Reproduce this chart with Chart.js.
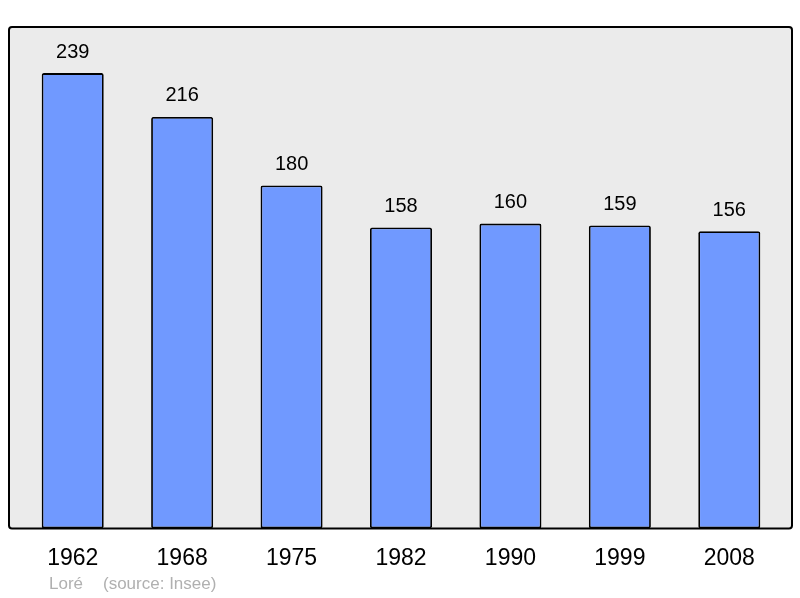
<!DOCTYPE html>
<html>
<head>
  <title>Loré population</title>
  <script src="https://cdn.jsdelivr.net/npm/chart.js@4.4.0/dist/chart.umd.min.js"></script>
  <style>
    body { margin: 0; background: #fff; }
    #wrap { width: 800px; height: 598px; }
  </style>
</head>
<body>
  <div id="wrap"><canvas id="popChart" width="800" height="598"></canvas></div>

  <script>
    // census years and population
    const years = ['1962', '1968', '1975', '1982', '1990', '1999', '2008'];
    const population = [239, 216, 180, 158, 160, 159, 156];
    const yMax = 263.2;

    const frame = {
      id: 'frame',
      beforeDraw(chart) {
        const ctx = chart.ctx;
        const area = chart.chartArea;
        ctx.save();
        ctx.beginPath();
        ctx.roundRect(9, area.top, 783, area.bottom - area.top, 3);
        ctx.fillStyle = '#ebebeb';
        ctx.fill();
        ctx.restore();
      },
      afterDatasetsDraw(chart) {
        const ctx = chart.ctx;
        const area = chart.chartArea;
        ctx.save();
        // value labels above bars
        ctx.font = '20px "Liberation Sans", Arial, sans-serif';
        ctx.fillStyle = '#000';
        ctx.textAlign = 'center';
        ctx.textBaseline = 'middle';
        chart.getDatasetMeta(0).data.forEach((bar, i) => {
          ctx.fillText(population[i], bar.x, bar.y - 21);
        });
        // frame outline
        ctx.beginPath();
        ctx.roundRect(9, area.top, 783, area.bottom - area.top, 3);
        ctx.lineWidth = 2;
        ctx.strokeStyle = '#000';
        ctx.stroke();
        // footer
        ctx.font = '17px "Liberation Sans", Arial, sans-serif';
        ctx.fillStyle = '#b0b0b0';
        ctx.textAlign = 'left';
        ctx.fillText('Loré', 49, 584);
        ctx.fillText('(source: Insee)', 103, 584);
        ctx.restore();
      }
    };

    new Chart(document.getElementById('popChart'), {
      type: 'bar',
      data: {
        labels: years,
        datasets: [{
          data: population,
          backgroundColor: '#7099ff',
          borderColor: '#000',
          borderWidth: 1.8,
          borderRadius: 2,
          borderSkipped: false,
          barPercentage: 0.567,
          categoryPercentage: 1
        }]
      },
      options: {
        responsive: false,
        animation: false,
        layout: { padding: { left: 18, right: 16, top: 27, bottom: 10 } },
        plugins: { legend: { display: false }, tooltip: { enabled: false } },
        scales: {
          x: {
            grid: { display: false, drawTicks: false },
            border: { display: false },
            ticks: {
              color: '#000',
              padding: 16,
              font: { family: '"Liberation Sans", Arial, sans-serif', size: 23 }
            }
          },
          y: {
            display: false,
            min: 0,
            max: yMax
          }
        }
      },
      plugins: [frame]
    });
  </script>
</body>
</html>
